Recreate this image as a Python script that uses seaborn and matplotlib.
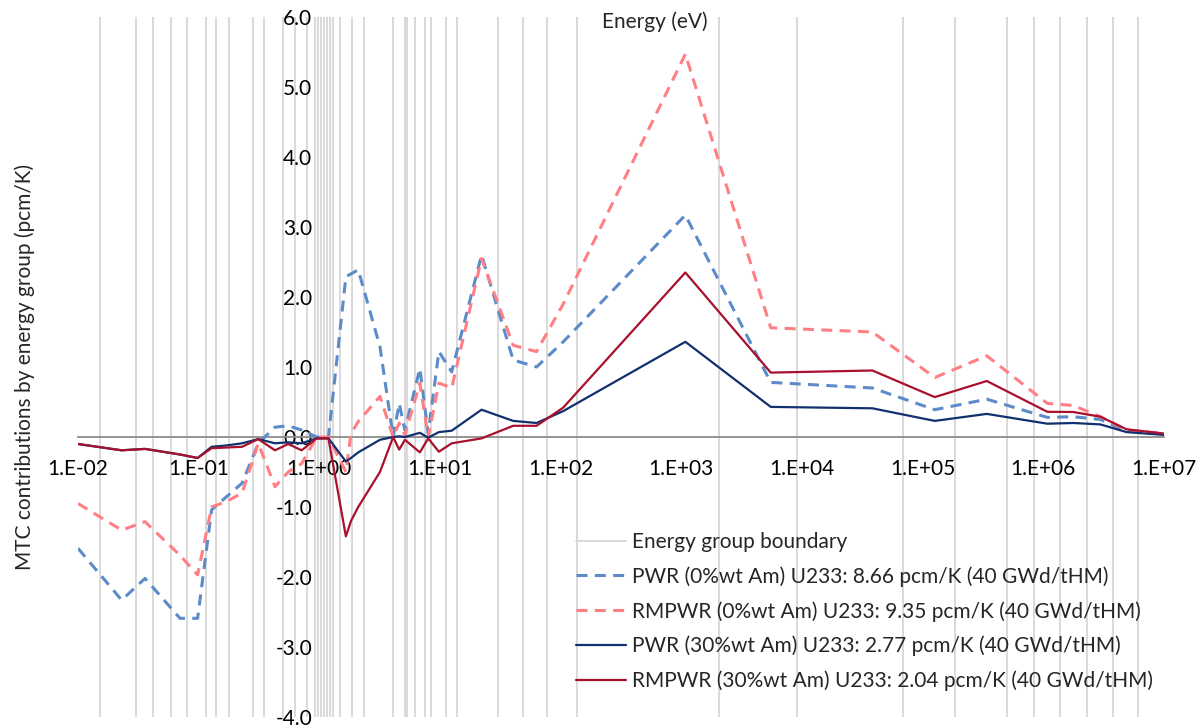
import numpy as np
import pandas as pd
import matplotlib
matplotlib.use("Agg")
import matplotlib.pyplot as plt
import seaborn as sns

# Energy grid of the plotted group values (eV)
energy = [0.010, 0.023, 0.0359, 0.070, 0.098, 0.128, 0.171, 0.229, 0.312, 0.429,
          0.552, 0.713, 0.95, 1.19, 1.66, 1.83, 2.10, 3.18, 4.09, 4.59,
          5.12, 6.81, 7.98, 9.79, 12.5, 22.1, 40.4, 63.1, 105, 1080,
          5510, 38300, 126000, 340000, 1.08e6, 1.77e6, 2.97e6, 4.89e6, 1.0e7]

# MTC contribution per energy group (pcm/K)
pwr_0am = [-1.59, -2.33, -2.02, -2.59, -2.59, -1.04, -0.85, -0.66, -0.09, 0.14,
           0.16, 0.10, 0.00, 0.00, 2.29, 2.33, 2.39, 1.29, 0.00, 0.48,
           0.10, 0.98, 0.05, 1.22, 0.93, 2.60, 1.10, 1.00, 1.36, 3.17,
           0.78, 0.70, 0.39, 0.54, 0.28, 0.29, 0.25, 0.086, 0.04]
rmpwr_0am = [-0.95, -1.33, -1.21, -1.69, -1.97, -1.00, -0.92, -0.80, -0.09, -0.71,
             -0.50, -0.38, 0.00, 0.00, -0.50, 0.05, 0.22, 0.58, 0.00, 0.20,
             0.03, 0.77, 0.00, 0.77, 0.70, 2.55, 1.31, 1.22, 1.90, 5.47,
             1.56, 1.50, 0.85, 1.16, 0.48, 0.45, 0.29, 0.10, 0.05]
pwr_30am = [-0.10, -0.19, -0.17, -0.25, -0.30, -0.14, -0.12, -0.09, -0.03, -0.09,
            -0.076, -0.09, -0.02, -0.02, -0.35, -0.30, -0.22, -0.04, 0.00, 0.01,
            0.00, 0.06, -0.01, 0.07, 0.09, 0.39, 0.23, 0.20, 0.37, 1.36,
            0.43, 0.41, 0.23, 0.33, 0.19, 0.20, 0.18, 0.07, 0.03]
rmpwr_30am = [-0.10, -0.19, -0.17, -0.25, -0.30, -0.16, -0.15, -0.14, -0.03, -0.19,
              -0.10, -0.19, -0.02, -0.02, -1.42, -1.20, -1.00, -0.50, 0.00, -0.18,
              -0.04, -0.22, -0.02, -0.21, -0.09, -0.02, 0.16, 0.16, 0.42, 2.35,
              0.92, 0.95, 0.57, 0.80, 0.36, 0.357, 0.29, 0.11, 0.05]

# Energy group boundaries (eV)
boundaries = [0.0152, 0.0302, 0.0418, 0.059, 0.080, 0.115, 0.139, 0.18, 0.28, 0.35,
              0.50, 0.63, 0.79, 0.92, 0.975, 1.03, 1.09, 1.16, 1.22, 1.30,
              1.48, 1.86, 2.35, 4.1, 5.1, 5.3, 6.2, 7.5, 8.4, 11.2,
              13.8, 30, 48.6, 77, 136, 2040, 9060, 68400, 184000, 498000,
              832000, 1.37e6, 2.3e6, 3.76e6, 6.07e6]

series = [
    ("PWR (0%wt Am) U233: 8.66 pcm/K (40 GWd/tHM)", pwr_0am, "#5b8bc9", (0, (3.6, 2.4)), 2.2),
    ("RMPWR (0%wt Am) U233: 9.35 pcm/K (40 GWd/tHM)", rmpwr_0am, "#ff7f84", (0, (3.6, 2.4)), 2.2),
    ("PWR (30%wt Am) U233: 2.77 pcm/K (40 GWd/tHM)", pwr_30am, "#10306e", "-", 1.6),
    ("RMPWR (30%wt Am) U233: 2.04 pcm/K (40 GWd/tHM)", rmpwr_30am, "#a8102e", "-", 1.6),
]

FS = 15

sns.set_theme(style="white")
plt.rcParams["font.family"] = ["Lato", "DejaVu Sans"]

fig = plt.figure(figsize=(12.04, 7.27), dpi=100)
ax = fig.add_axes([78 / 1204, 10 / 727, 1086 / 1204, 700 / 727])

for i, b in enumerate(boundaries):
    ax.axvline(b, color="#d9d9d9", lw=1.4, zorder=0,
               label="Energy group boundary" if i == 0 else None)

for label, vals, color, ls, lw in series:
    df = pd.DataFrame({"E": energy, "v": vals})
    sns.lineplot(data=df, x="E", y="v", ax=ax, color=color, linestyle=ls,
                 linewidth=lw, label=label, zorder=3)

ax.set_xscale("log")
ax.set_xlim(1e-2, 1e7)
ax.set_ylim(-4, 6)
ax.set_xticks([10.0 ** k for k in range(-2, 8)])
ax.set_xticklabels([f"1.E{k:+03d}" for k in range(-2, 8)])
ax.xaxis.set_minor_locator(matplotlib.ticker.NullLocator())
ax.set_yticks(np.arange(-4, 7, 1))
ax.set_yticklabels([f"{v:.1f}" for v in np.arange(-4, 7, 1)])

ax.spines["bottom"].set_position(("data", 0))
ax.spines["left"].set_position(("data", 1))
ax.spines["left"].set_visible(False)
ax.spines["top"].set_visible(False)
ax.spines["right"].set_visible(False)
ax.spines["bottom"].set_color("#8c8c8c")
ax.spines["bottom"].set_linewidth(1.3)
ax.spines["bottom"].set_zorder(2)
ax.tick_params(axis="x", length=0, pad=15.5, labelsize=FS, colors="black")
ax.tick_params(axis="y", length=0, pad=5, labelsize=FS, colors="black")
ax.set_xlabel("")
ax.set_ylabel("")
ax.grid(False)

fig.text(25 / 1204, 1 - 367 / 727, "MTC contributions by energy group (pcm/K)",
         rotation=90, ha="center", va="center", fontsize=FS)
fig.text(655 / 1204, 1 - 22 / 727, "Energy (eV)", ha="center", va="center",
         fontsize=FS)

handles, labels = ax.get_legend_handles_labels()
ax.legend(handles, labels, loc="upper left", frameon=False,
          bbox_to_anchor=(576 / 1204, 1 - 532 / 727), bbox_transform=fig.transFigure,
          fontsize=FS, handlelength=2.4, handletextpad=0.3, labelspacing=0.68,
          borderpad=0, borderaxespad=0)

fig.savefig("out.png", dpi=100, facecolor="white")
